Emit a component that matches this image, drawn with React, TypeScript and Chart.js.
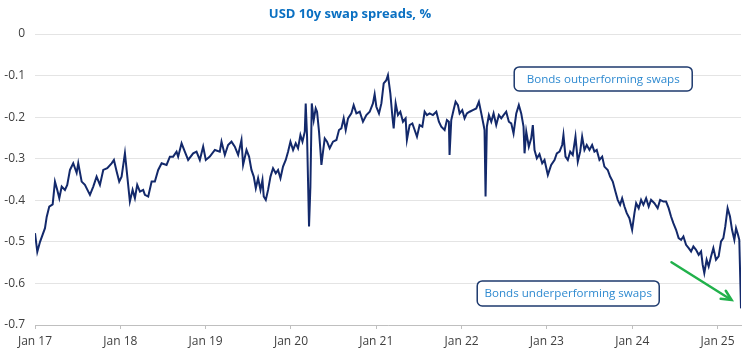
import React, { useEffect, useRef } from "react";
import { Chart, registerables } from "chart.js";

Chart.register(...registerables);

const titleText = "USD 10y swap spreads, %";
const noteUp = "Bonds outperforming swaps";
const noteDown = "Bonds underperforming swaps";

const tickYears = [2017, 2018, 2019, 2020, 2021, 2022, 2023, 2024, 2025];
const yTicks = [0, -0.1, -0.2, -0.3, -0.4, -0.5, -0.6, -0.7];

// [decimal year, spread %]
const s2017: [number, number][] = [
  [2017.0, -0.479], [2017.027, -0.524], [2017.059, -0.5], [2017.117, -0.467], [2017.137, -0.44],
  [2017.167, -0.415], [2017.207, -0.41], [2017.234, -0.355], [2017.261, -0.375], [2017.285, -0.395],
  [2017.313, -0.367], [2017.351, -0.375], [2017.378, -0.363], [2017.41, -0.327], [2017.448, -0.311],
  [2017.488, -0.334], [2017.507, -0.311], [2017.547, -0.355], [2017.585, -0.363], [2017.644, -0.387],
  [2017.683, -0.367], [2017.722, -0.343], [2017.761, -0.363], [2017.8, -0.327], [2017.847, -0.323],
  [2017.898, -0.311], [2017.925, -0.303], [2017.957, -0.331], [2017.987, -0.355],
];
const s2018: [number, number][] = [
  [2018.015, -0.343], [2018.054, -0.287], [2018.074, -0.327], [2018.112, -0.403], [2018.144, -0.375],
  [2018.171, -0.395], [2018.198, -0.363], [2018.23, -0.379], [2018.268, -0.375], [2018.288, -0.387],
  [2018.327, -0.391], [2018.367, -0.355], [2018.405, -0.355], [2018.444, -0.327], [2018.484, -0.311],
  [2018.542, -0.315], [2018.581, -0.295], [2018.619, -0.295], [2018.659, -0.283], [2018.678, -0.295],
  [2018.718, -0.263], [2018.756, -0.283], [2018.795, -0.303], [2018.854, -0.287], [2018.893, -0.283],
  [2018.932, -0.303], [2018.971, -0.271],
];
const s2019: [number, number][] = [
  [2019.002, -0.303], [2019.049, -0.295], [2019.108, -0.279], [2019.166, -0.283], [2019.186, -0.259],
  [2019.225, -0.291], [2019.263, -0.267], [2019.303, -0.259], [2019.342, -0.271], [2019.381, -0.291],
  [2019.42, -0.255], [2019.439, -0.315], [2019.479, -0.279], [2019.509, -0.295], [2019.537, -0.327],
  [2019.564, -0.343], [2019.588, -0.371], [2019.615, -0.347], [2019.643, -0.375], [2019.666, -0.351],
  [2019.681, -0.391], [2019.705, -0.399], [2019.732, -0.375], [2019.76, -0.343], [2019.79, -0.323],
  [2019.822, -0.335], [2019.849, -0.327], [2019.877, -0.347], [2019.907, -0.319], [2019.939, -0.303],
  [2019.966, -0.283], [2019.994, -0.259],
];
const s2020: [number, number][] = [
  [2020.025, -0.279], [2020.056, -0.263], [2020.083, -0.275], [2020.111, -0.243], [2020.135, -0.259],
  [2020.162, -0.235], [2020.173, -0.167], [2020.189, -0.247], [2020.212, -0.463], [2020.228, -0.367],
  [2020.244, -0.167], [2020.267, -0.207], [2020.29, -0.179], [2020.306, -0.187], [2020.329, -0.235],
  [2020.345, -0.279], [2020.357, -0.315], [2020.376, -0.283], [2020.396, -0.251], [2020.423, -0.259],
  [2020.454, -0.275], [2020.493, -0.259], [2020.533, -0.255], [2020.563, -0.231], [2020.591, -0.227],
  [2020.618, -0.203], [2020.642, -0.231], [2020.669, -0.203], [2020.708, -0.191], [2020.735, -0.171],
  [2020.767, -0.191], [2020.806, -0.187], [2020.844, -0.211], [2020.884, -0.195], [2020.923, -0.187],
  [2020.961, -0.167], [2020.981, -0.145],
];
const s2021: [number, number][] = [
  [2021.001, -0.175], [2021.032, -0.191], [2021.06, -0.167], [2021.087, -0.119], [2021.118, -0.111],
  [2021.137, -0.099], [2021.165, -0.143], [2021.189, -0.199], [2021.204, -0.227], [2021.227, -0.167],
  [2021.254, -0.195], [2021.282, -0.187], [2021.313, -0.211], [2021.344, -0.203], [2021.359, -0.255],
  [2021.391, -0.219], [2021.423, -0.215], [2021.45, -0.231], [2021.477, -0.247], [2021.508, -0.219],
  [2021.54, -0.223], [2021.567, -0.187], [2021.594, -0.195], [2021.625, -0.191], [2021.664, -0.195],
  [2021.704, -0.187], [2021.734, -0.211], [2021.762, -0.223], [2021.801, -0.231], [2021.828, -0.207],
  [2021.851, -0.211], [2021.859, -0.291], [2021.879, -0.207], [2021.906, -0.183], [2021.93, -0.163],
  [2021.957, -0.171], [2021.977, -0.191],
];
const s2022: [number, number][] = [
  [2022.008, -0.183], [2022.035, -0.203], [2022.062, -0.191], [2022.094, -0.187], [2022.132, -0.183],
  [2022.172, -0.179], [2022.203, -0.163], [2022.231, -0.191], [2022.258, -0.219], [2022.269, -0.231],
  [2022.281, -0.391], [2022.296, -0.223], [2022.32, -0.195], [2022.348, -0.211], [2022.375, -0.191],
  [2022.406, -0.219], [2022.437, -0.195], [2022.465, -0.203], [2022.492, -0.195], [2022.523, -0.187],
  [2022.554, -0.211], [2022.582, -0.215], [2022.609, -0.239], [2022.641, -0.191], [2022.671, -0.171],
  [2022.699, -0.191], [2022.726, -0.223], [2022.738, -0.287], [2022.758, -0.235], [2022.788, -0.271],
  [2022.816, -0.251], [2022.835, -0.219], [2022.855, -0.279], [2022.882, -0.299], [2022.913, -0.289],
  [2022.945, -0.311], [2022.972, -0.303],
];
const s2023: [number, number][] = [
  [2023.011, -0.339], [2023.05, -0.315], [2023.089, -0.303], [2023.116, -0.287], [2023.148, -0.283],
  [2023.179, -0.267], [2023.194, -0.243], [2023.218, -0.295], [2023.245, -0.303], [2023.273, -0.283],
  [2023.303, -0.291], [2023.335, -0.247], [2023.362, -0.307], [2023.39, -0.283], [2023.413, -0.247],
  [2023.44, -0.279], [2023.467, -0.267], [2023.499, -0.279], [2023.53, -0.267], [2023.557, -0.283],
  [2023.584, -0.279], [2023.616, -0.303], [2023.648, -0.295], [2023.674, -0.319], [2023.713, -0.327],
  [2023.741, -0.343], [2023.772, -0.355], [2023.803, -0.379], [2023.83, -0.399], [2023.858, -0.411],
  [2023.882, -0.395], [2023.909, -0.415], [2023.936, -0.431], [2023.967, -0.443], [2023.999, -0.471],
];
const s2024: [number, number][] = [
  [2024.026, -0.431], [2024.046, -0.407], [2024.076, -0.419], [2024.104, -0.399], [2024.131, -0.411],
  [2024.163, -0.395], [2024.193, -0.415], [2024.221, -0.399], [2024.26, -0.407], [2024.298, -0.419],
  [2024.327, -0.399], [2024.365, -0.403], [2024.397, -0.403], [2024.427, -0.419], [2024.455, -0.439],
  [2024.482, -0.455], [2024.514, -0.471], [2024.544, -0.491], [2024.573, -0.495], [2024.6, -0.487],
  [2024.631, -0.507], [2024.662, -0.515], [2024.69, -0.523], [2024.717, -0.511], [2024.748, -0.519],
  [2024.779, -0.531], [2024.807, -0.523], [2024.826, -0.555], [2024.845, -0.575], [2024.872, -0.543],
  [2024.896, -0.559], [2024.924, -0.535], [2024.951, -0.515], [2024.982, -0.543],
];
const s2025: [number, number][] = [
  [2025.013, -0.535], [2025.041, -0.499], [2025.068, -0.491], [2025.091, -0.463], [2025.118, -0.419],
  [2025.146, -0.439], [2025.17, -0.471], [2025.197, -0.495], [2025.217, -0.467], [2025.24, -0.483],
  [2025.255, -0.495], [2025.275, -0.66],
];

// annotation anchors in data coordinates [year, value]
const noteUpAt: [number, number] = [2023.66, -0.108];
const noteDownAt: [number, number] = [2023.25, -0.624];
const arrowFrom: [number, number] = [2024.46, -0.549];
const arrowTo: [number, number] = [2025.165, -0.64];

const allPoints = [...s2017, ...s2018, ...s2019, ...s2020, ...s2021, ...s2022, ...s2023, ...s2024, ...s2025];
const xMax = allPoints[allPoints.length - 1][0];

const FONT = '"Open Sans", "Noto Sans", sans-serif';

const overlayPlugin = {
  id: "overlay",
  afterDraw(chart: any) {
    const ctx = chart.ctx as CanvasRenderingContext2D;
    const xs = chart.scales.x;
    const ys = chart.scales.y;
    ctx.save();
    // title
    ctx.font = `bold 13px ${FONT}`;
    ctx.fillStyle = "#0a70c2";
    ctx.textAlign = "center";
    ctx.textBaseline = "middle";
    ctx.fillText(titleText, 350, 14);

    const drawNote = (text: string, at: [number, number], w: number, h: number) => {
      const cx = xs.getPixelForValue(at[0]);
      const cy = ys.getPixelForValue(at[1]);
      ctx.beginPath();
      (ctx as any).roundRect(cx - w / 2, cy - h / 2, w, h, 5);
      ctx.fillStyle = "#ffffff";
      ctx.fill();
      ctx.lineWidth = 1.5;
      ctx.strokeStyle = "#1e3a6e";
      ctx.stroke();
      ctx.font = `11.6px ${FONT}`;
      ctx.fillStyle = "#2f8ad0";
      ctx.textAlign = "center";
      ctx.textBaseline = "middle";
      ctx.fillText(text, cx, cy + 0.5);
    };
    drawNote(noteUp, noteUpAt, 178, 24);
    drawNote(noteDown, noteDownAt, 182, 25);

    // arrow
    const x1 = xs.getPixelForValue(arrowFrom[0]);
    const y1 = ys.getPixelForValue(arrowFrom[1]);
    const x2 = xs.getPixelForValue(arrowTo[0]);
    const y2 = ys.getPixelForValue(arrowTo[1]);
    const ang = Math.atan2(y2 - y1, x2 - x1);
    const head = 11;
    ctx.strokeStyle = "#21b14b";
    ctx.lineWidth = 2.5;
    ctx.lineCap = "round";
    ctx.beginPath();
    ctx.moveTo(x1, y1);
    ctx.lineTo(x2 - Math.cos(ang) * 2, y2 - Math.sin(ang) * 2);
    ctx.stroke();
    ctx.beginPath();
    ctx.moveTo(x2 - head * Math.cos(ang - 0.45), y2 - head * Math.sin(ang - 0.45));
    ctx.lineTo(x2, y2);
    ctx.lineTo(x2 - head * Math.cos(ang + 0.45), y2 - head * Math.sin(ang + 0.45));
    ctx.stroke();
    ctx.restore();
  },
};

export default function App() {
  const ref = useRef<HTMLCanvasElement | null>(null);
  useEffect(() => {
    document.body.style.margin = "0";
    if (!ref.current) return;
    const chart = new Chart(ref.current, {
      type: "line",
      data: {
        datasets: [
          {
            data: allPoints.map(([x, y]) => ({ x, y })),
            borderColor: "#13296b",
            borderWidth: 2,
            pointRadius: 0,
            tension: 0,
            fill: false,
          },
        ],
      },
      options: {
        animation: false,
        responsive: false,
        devicePixelRatio: 1,
        layout: { padding: { top: 34, right: 10, left: 0, bottom: 0 } },
        plugins: { legend: { display: false }, tooltip: { enabled: false }, title: { display: false } },
        scales: {
          x: {
            type: "linear",
            min: tickYears[0],
            max: xMax,
            afterBuildTicks: (scale: any) => {
              scale.ticks = tickYears.map((v) => ({ value: v }));
            },
            afterFit: (scale: any) => {
              scale.height = 26;
            },
            ticks: {
              autoSkip: false,
              maxRotation: 0,
              padding: 5,
              color: "#404040",
              font: { family: FONT, size: 12 },
              callback: (v: any) => "Jan " + String(v).slice(2),
            },
            grid: { display: true, drawOnChartArea: false, drawTicks: true, tickLength: 4, color: "#bfbfbf" },
            border: { display: true, color: "#bfbfbf", width: 1 },
          },
          y: {
            min: -0.7,
            max: 0,
            afterBuildTicks: (scale: any) => {
              scale.ticks = yTicks.map((v) => ({ value: v }));
            },
            afterFit: (scale: any) => {
              scale.width = 35;
            },
            ticks: {
              padding: 10,
              color: "#404040",
              font: { family: FONT, size: 12 },
              callback: (v: any) => (Math.abs(v) < 1e-9 ? "0" : Number(v).toFixed(1)),
            },
            grid: { color: "#e4e4e4", lineWidth: 1, drawTicks: false },
            border: { display: false },
          },
        },
      },
      plugins: [overlayPlugin],
    });
    return () => chart.destroy();
  }, []);
  return (
    <div style={{ width: 751, height: 351, background: "#fff" }}>
      <canvas ref={ref} width={751} height={351} style={{ display: "block" }} />
    </div>
  );
}
